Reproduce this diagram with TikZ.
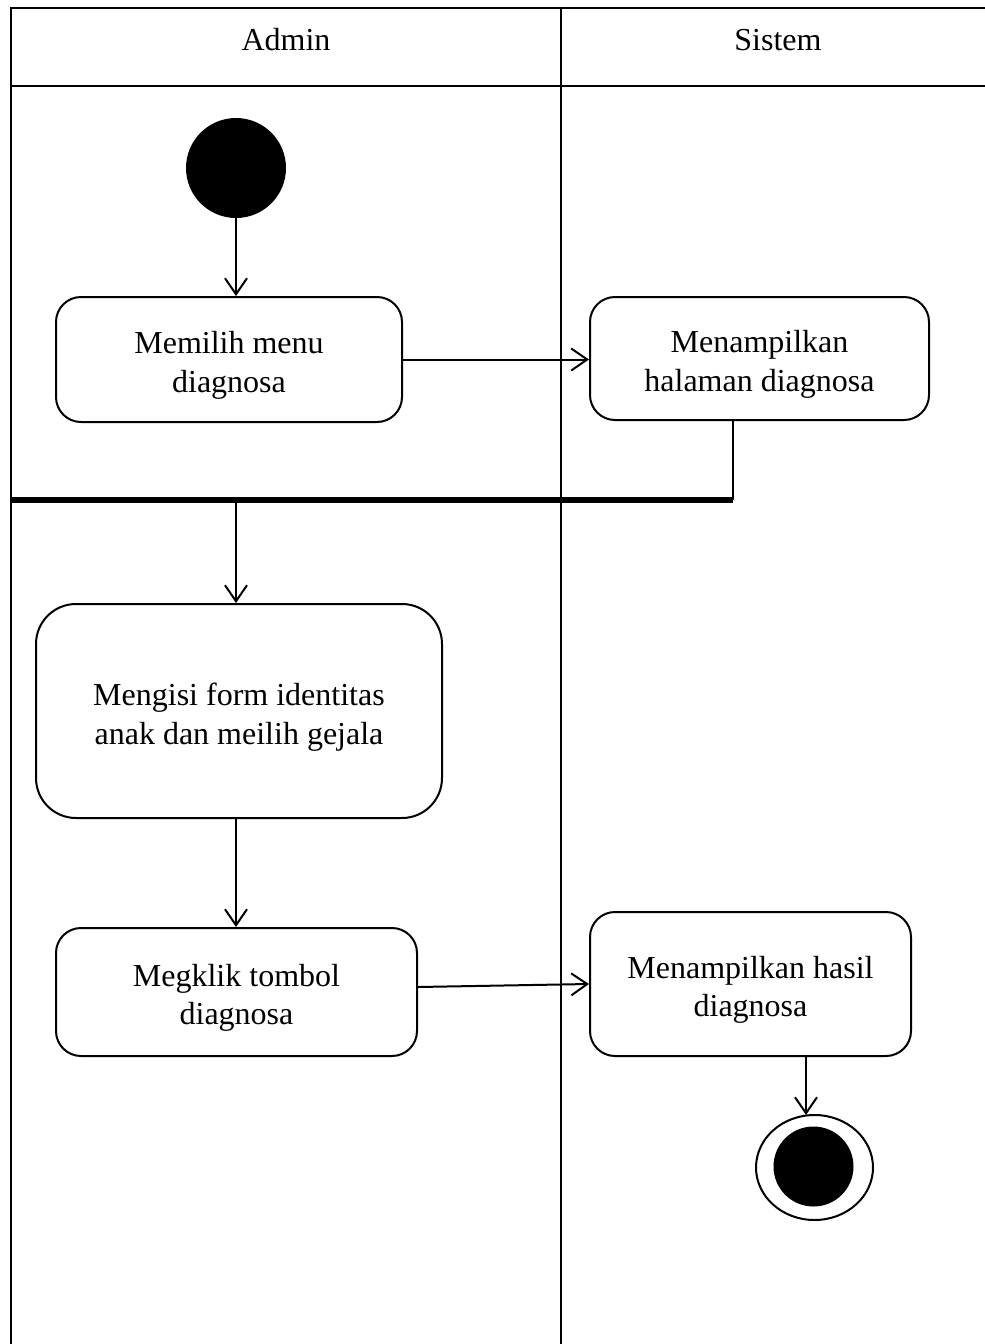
\documentclass[tikz,border=0pt]{standalone}
\usepackage{fontspec}
\setmainfont{Liberation Serif}
\usetikzlibrary{arrows.meta,shapes.geometric}
\begin{document}
\begin{tikzpicture}[x=1pt,y=-1pt,
  lane/.style={line width=1.2pt},
  act/.style={draw, line width=2pt, rounded corners=25pt, inner sep=0pt},
  acttext/.style={align=center, inner sep=0pt, yshift=-6pt, font=\fontsize{32}{38.5}\selectfont},
  flow/.style={line width=2pt, -{Straight Barb[length=16pt, width=22pt, line width=2pt]}},
  label/.style={font=\fontsize{32}{38.5}\selectfont, inner sep=0pt}]
\useasboundingbox (0,0) rectangle (985,1344);

% swimlane frame
\coordinate (tl) at (11,8);
\coordinate (tr) at (985,8);
\coordinate (hl) at (11,86);
\coordinate (hr) at (985,86);
\coordinate (bl) at (11,1344);
\coordinate (mt) at (561,8);
\coordinate (mb) at (561,1344);
\draw[lane] (tr) -- (tl) -- (bl);
\draw[lane] (hl) -- (hr);
\draw[lane] (mt) -- (mb);
\node[label] (hadmin) at (286,40) {Admin};
\node[label] (hsistem) at (778,40) {Sistem};

% start
\node[circle, fill=black, minimum size=100pt, inner sep=0pt] (start) at (236,168) {};

% activities
\node[act, minimum width=346pt, minimum height=125pt] (b1) at (229,359.5) {};
\node[acttext] (t1) at (b1.center) {Memilih menu\\diagnosa};
\node[act, minimum width=339pt, minimum height=123pt] (b2) at (759.5,358.5) {};
\node[acttext] (t2) at (b2.center) {Menampilkan\\halaman diagnosa};
\node[act, rounded corners=40pt, minimum width=406pt, minimum height=214pt] (b3) at (239,711) {};
\node[acttext] (t3) at (b3.center) {Mengisi form identitas\\anak dan meilih gejala};
\node[act, minimum width=361pt, minimum height=128pt] (b4) at (236.5,992) {};
\node[acttext] (t4) at (b4.center) {Megklik tombol\\diagnosa};
\node[act, minimum width=321pt, minimum height=144pt] (b5) at (750.5,984) {};
\node[acttext] (t5) at (b5.center) {Menampilkan hasil\\diagnosa};

% join bar
\node[fill=black, minimum width=722pt, minimum height=6pt, inner sep=0pt] (fork) at (372,500) {};
\coordinate (joinin) at (733,500);

% end
\node[ellipse, draw, line width=2pt, minimum width=117pt, minimum height=105pt, inner sep=0pt] (endout) at (814.5,1167.5) {};
\node[circle, fill=black, minimum size=80pt, inner sep=0pt] (endin) at (813.5,1166.5) {};
\coordinate (endtop) at (806,1115);

% flows
\draw[flow] (start.south) -- (start.south |- b1.north);
\draw[flow] (b1.east) -- (b1.east -| b2.west);
\draw[line width=2pt] (b2.south -| joinin) -- (joinin);
\draw[flow] (fork.south -| start) -- (start |- b3.north);
\draw[flow] (b3.south -| start) -- (start |- b4.north);
\draw[flow] (b4.east) ++(0,-5) -- (b5.west);
\draw[flow] (b5.south -| endtop) -- (endtop);
\end{tikzpicture}
\end{document}
